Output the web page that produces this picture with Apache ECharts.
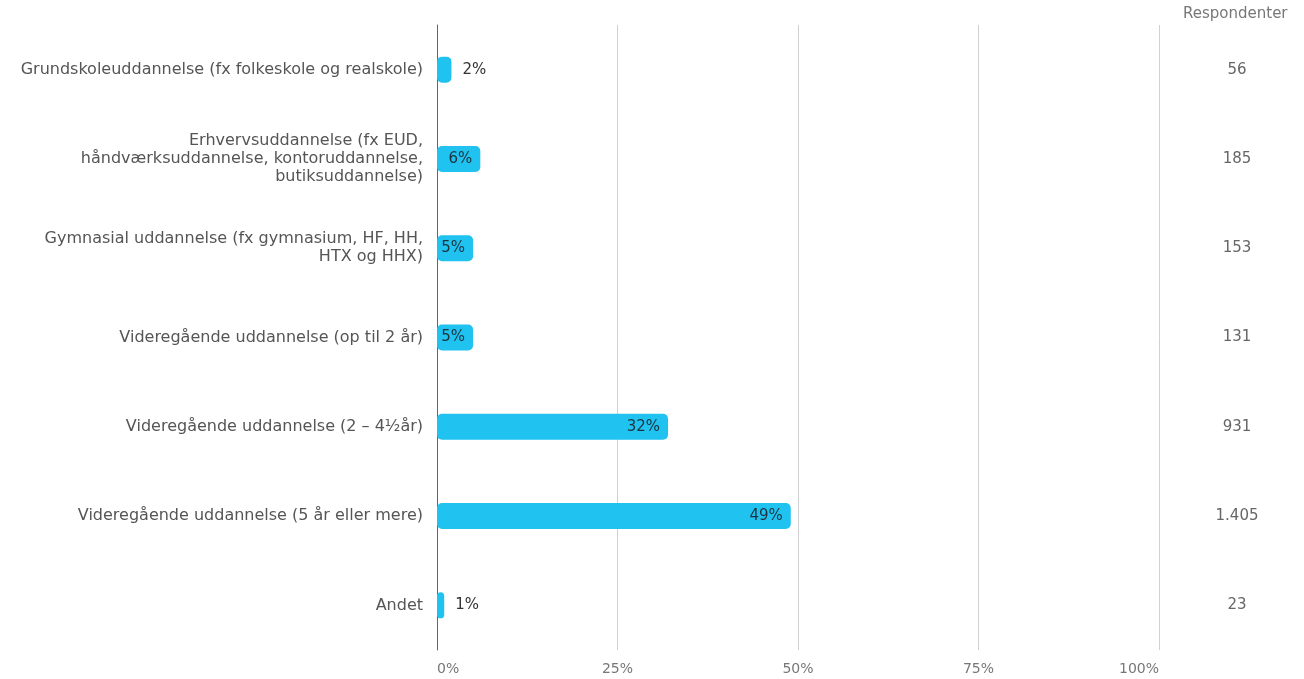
<!DOCTYPE html>
<html>
<head>
<meta charset="utf-8">
<script src="https://cdn.jsdelivr.net/npm/echarts@6/dist/echarts.min.js"></script>
<style>html,body{margin:0;padding:0;background:#fff;}#c{width:1304px;height:679px;}</style>
</head>
<body>
<div id="c"></div>
<script>
const categories = [
  "Grundskoleuddannelse (fx folkeskole og realskole)",
  "Erhvervsuddannelse (fx EUD,\nhåndværksuddannelse, kontoruddannelse,\nbutiksuddannelse)",
  "Gymnasial uddannelse (fx gymnasium, HF, HH,\nHTX og HHX)",
  "Videregående uddannelse (op til 2 år)",
  "Videregående uddannelse (2 – 4½år)",
  "Videregående uddannelse (5 år eller mere)",
  "Andet"
];
const percentages = [2, 6, 5, 5, 32, 49, 1];
const respondents = ["56", "185", "153", "131", "931", "1.405", "23"];
const xTickLabels = ["0%", "25%", "50%", "75%", "100%"];

const chart = echarts.init(document.getElementById('c'), null, {renderer: 'canvas'});
const FONT = '"DejaVu Sans"';
const barData = percentages.map(v => ({
  value: v,
  label: v < 4
    ? {position: 'right', distance: 11, color: '#333'}
    : {position: 'insideRight', distance: 8, color: '#1d3340'}
}));

chart.setOption({
  animation: false,
  backgroundColor: '#fff',
  grid: {left: 437, right: 145, top: 25, bottom: 29, containLabel: false},
  xAxis: {
    type: 'value', min: 0, max: 100, interval: 25,
    axisLine: {show: false}, axisTick: {show: false},
    splitLine: {show: true, lineStyle: {color: '#d0d0d0', width: 1}},
    axisLabel: {
      formatter: (v) => xTickLabels[Math.round(v / 25)],
      color: '#777', fontFamily: FONT, fontSize: 14, margin: 12,
      alignMinLabel: 'left', alignMaxLabel: 'right'
    }
  },
  yAxis: [{
    type: 'category', data: categories, inverse: true,
    axisLine: {show: true, lineStyle: {color: '#666', width: 1}},
    axisTick: {show: false},
    axisLabel: {color: '#555', fontFamily: FONT, fontSize: 16, lineHeight: 18, margin: 14, align: 'right'}
  }, {
    type: 'category', data: respondents, inverse: true, position: 'right',
    axisLine: {show: false}, axisTick: {show: false},
    axisLabel: {color: '#666', fontFamily: FONT, fontSize: 15, margin: 78, align: 'center'}
  }],
  graphic: [{
    type: 'text', left: 1183, top: 7,
    style: {text: 'Respondenter', fill: '#777', font: '15px "DejaVu Sans"'}
  }],
  series: [{
    type: 'bar', data: barData, barWidth: 26, yAxisIndex: 0,
    itemStyle: {color: '#20c2ef', borderRadius: 5},
    label: {show: true, formatter: '{c}%', fontFamily: FONT, fontSize: 15}
  }]
});
</script>
</body>
</html>
